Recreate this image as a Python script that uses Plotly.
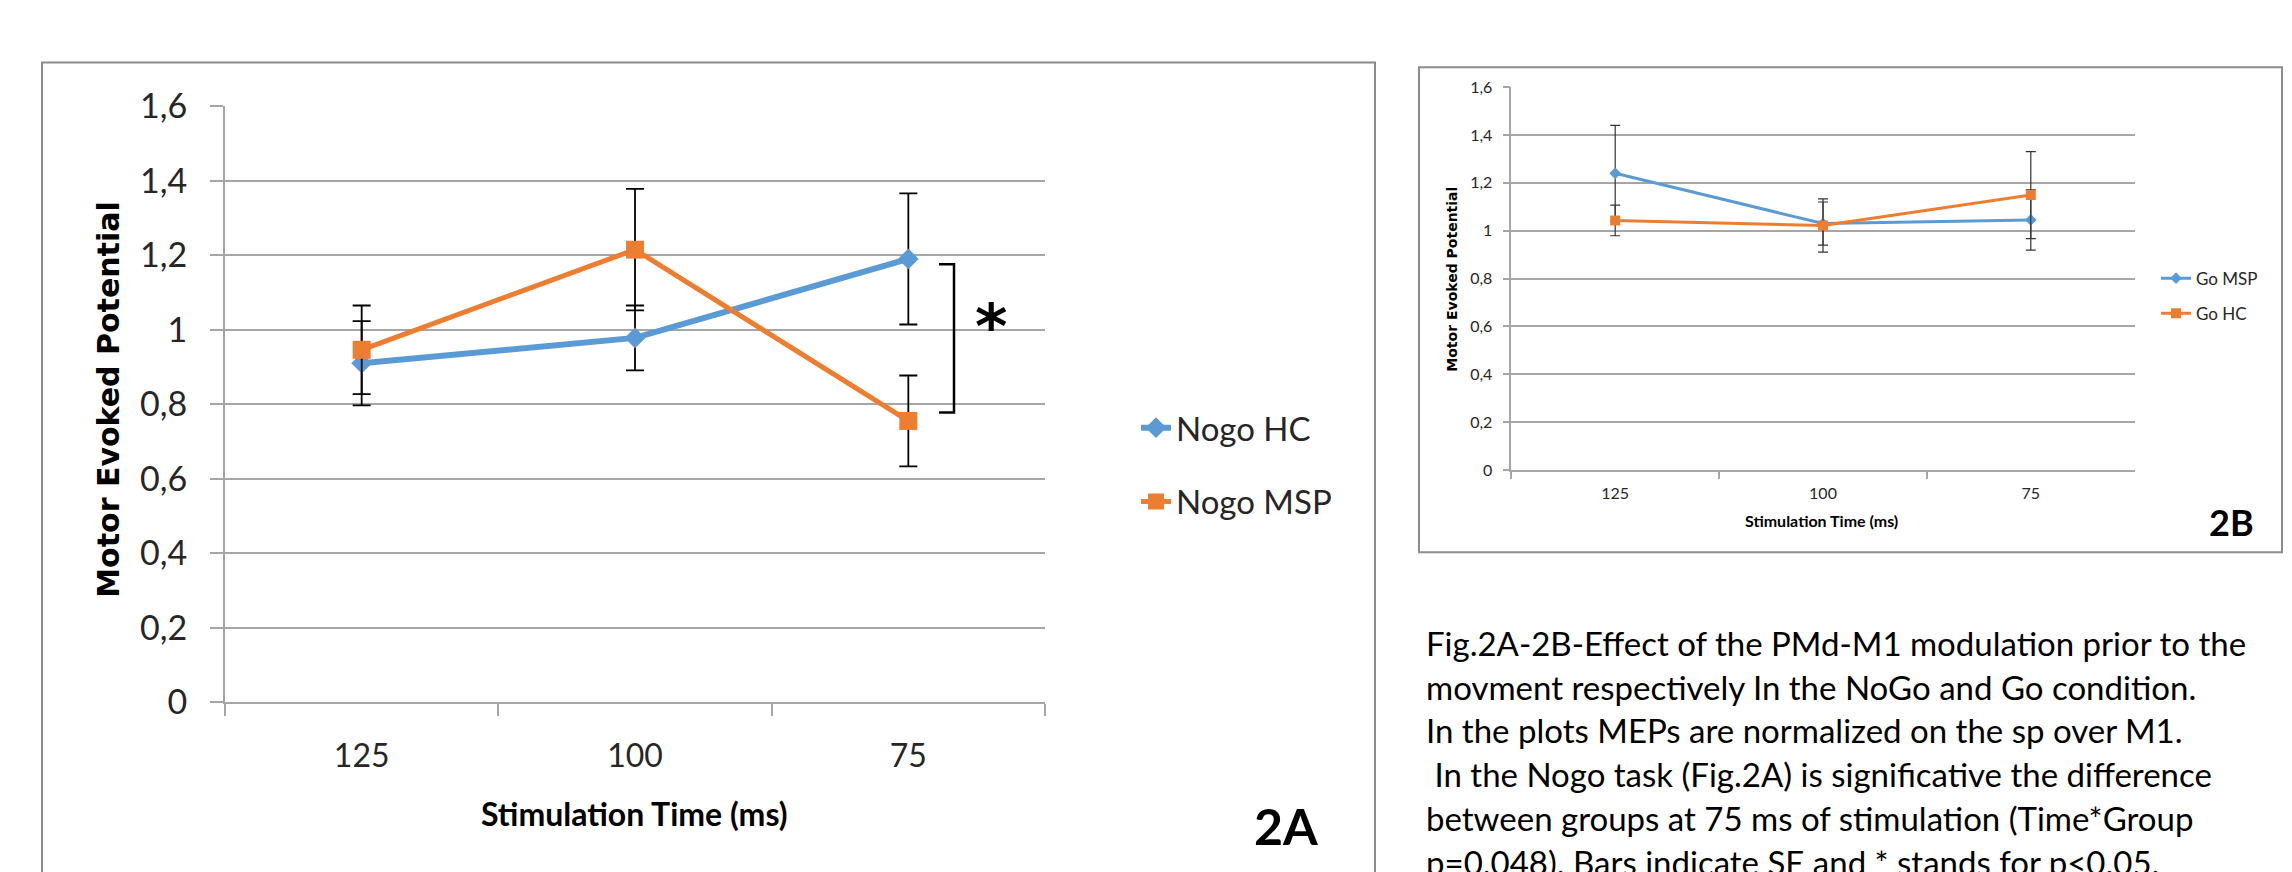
import plotly.graph_objects as go

W, H = 2292, 872

# ---------------- data ----------------
stim_times = ["125", "100", "75"]

nogo_hc = [0.91, 0.978, 1.19]
nogo_hc_se = [0.113, 0.087, 0.176]
nogo_msp = [0.946, 1.215, 0.755]
nogo_msp_se = [0.119, 0.163, 0.122]

go_msp = [1.24, 1.03, 1.045]
go_msp_se = [0.2, 0.09, 0.126]
go_hc = [1.043, 1.022, 1.149]
go_hc_se = [0.064, 0.111, 0.182]

sig_bracket = [0.778, 1.176]   # span of the significance bracket at 75 ms (Fig. 2A)

caption_lines = [
    "Fig.2A-2B-Effect of the PMd-M1 modulation prior to the",
    "movment respectively In the NoGo and Go condition.",
    "In the plots MEPs are normalized on the sp over M1.",
    "\u00a0In the Nogo task (Fig.2A) is significative the difference",
    "between groups at 75 ms of stimulation (Time*Group",
    "p=0.048). Bars indicate SE and * stands for p&lt;0.05.",
]

BLUE = "#5B9BD5"
ORANGE = "#ED7D31"
GRID = "#A6A6A6"
FRAME = "#8C8C8C"
FONT = "Lato, 'Liberation Sans', sans-serif"
BOLD_WIDE = "'DejaVu Sans', Verdana, sans-serif"


def px(x):
    return x / W


def py(y):
    return 1 - y / H


fig = go.Figure()

# ---------------- Fig. 2A ----------------
fig.add_trace(go.Scatter(
    x=stim_times, y=nogo_hc, name="Nogo HC", mode="lines+markers",
    line=dict(color=BLUE, width=6), marker=dict(symbol="diamond", size=16, color=BLUE),
    error_y=dict(type="data", array=nogo_hc_se, symmetric=True, color="black", thickness=1.8, width=9),
    xaxis="x", yaxis="y", legend="legend", legendgroup="a1"))
fig.add_trace(go.Scatter(
    x=stim_times, y=nogo_msp, name="Nogo MSP", mode="lines+markers",
    line=dict(color=ORANGE, width=5), marker=dict(symbol="square", size=18, color=ORANGE),
    error_y=dict(type="data", array=nogo_msp_se, symmetric=True, color="black", thickness=1.8, width=9),
    xaxis="x", yaxis="y", legend="legend", legendgroup="a2"))

# ---------------- Fig. 2B ----------------
fig.add_trace(go.Scatter(
    x=stim_times, y=go_msp, name="Go MSP", mode="lines+markers",
    line=dict(color=BLUE, width=3), marker=dict(symbol="diamond", size=9, color=BLUE),
    error_y=dict(type="data", array=go_msp_se, symmetric=True, color="#333333", thickness=1.2, width=5),
    xaxis="x2", yaxis="y2", legend="legend2", legendgroup="b1"))
fig.add_trace(go.Scatter(
    x=stim_times, y=go_hc, name="Go HC", mode="lines+markers",
    line=dict(color=ORANGE, width=3), marker=dict(symbol="square", size=10, color=ORANGE),
    error_y=dict(type="data", array=go_hc_se, symmetric=True, color="#333333", thickness=1.2, width=5),
    xaxis="x2", yaxis="y2", legend="legend2", legendgroup="b2"))

xcommon = dict(type="category", categoryorder="array", categoryarray=stim_times,
               range=[-0.5, 2.5], tickson="boundaries", ticks="outside",
               showline=True, linecolor=GRID, tickcolor=GRID, showgrid=False,
               zeroline=False, fixedrange=True)
ycommon = dict(range=[0, 1.6], dtick=0.2, tick0=0, ticks="outside", showline=True,
               linecolor=GRID, tickcolor=GRID, showgrid=True, gridcolor=GRID,
               zeroline=False, fixedrange=True)

fig.update_layout(
    width=W, height=H, autosize=False,
    margin=dict(l=0, r=0, t=0, b=0),
    paper_bgcolor="white", plot_bgcolor="white",
    separators=", ",
    font=dict(family=FONT, color="#262626"),
    xaxis=dict(**xcommon, domain=[px(217), px(1037)], anchor="y",
               ticklen=12, tickwidth=2, linewidth=2,
               tickfont=dict(size=32, family=FONT, color="#262626"), ticklabelstandoff=24),
    yaxis=dict(**ycommon, domain=[py(705.3), py(80)], anchor="x",
               ticklen=13, tickwidth=2, linewidth=2, gridwidth=2,
               tickfont=dict(size=34, family=FONT, color="#262626"), ticklabelstandoff=16),
    xaxis2=dict(**xcommon, domain=[px(1503.3), px(2126.7)], anchor="y2",
                ticklen=7, tickwidth=1.5, linewidth=1.5,
                tickfont=dict(size=16, family=FONT, color="#262626"), ticklabelstandoff=8),
    yaxis2=dict(**ycommon, domain=[py(461.7), py(60)], anchor="x2",
                ticklen=7, tickwidth=1.5, linewidth=1.5, gridwidth=1.5,
                tickfont=dict(size=16, family=FONT, color="#262626"), ticklabelstandoff=7),
    legend=dict(x=px(1128), y=py(388), xanchor="left", yanchor="top",
                font=dict(size=33, family=FONT, color="#262626"),
                bgcolor="rgba(0,0,0,0)", tracegroupgap=28, itemwidth=30),
    legend2=dict(x=px(2148), y=py(242), xanchor="left", yanchor="top",
                 font=dict(size=17, family=FONT, color="#262626"),
                 bgcolor="rgba(0,0,0,0)", tracegroupgap=10, itemwidth=30),
    showlegend=True,
)

shapes = [
    dict(type="rect", xref="paper", yref="paper", x0=px(34), x1=px(1367), y0=py(34), y1=py(900),
         line=dict(color=FRAME, width=2), fillcolor="rgba(0,0,0,0)", layer="below"),
    dict(type="rect", xref="paper", yref="paper", x0=px(1411), x1=px(2274), y0=py(39), y1=py(548),
         line=dict(color=FRAME, width=2), fillcolor="rgba(0,0,0,0)", layer="below"),
    dict(type="path", xref="paper", yref="y",
         path=f"M {px(931)},{sig_bracket[1]} L {px(946)},{sig_bracket[1]} "
              f"L {px(946)},{sig_bracket[0]} L {px(931)},{sig_bracket[0]}",
         line=dict(color="black", width=2.5)),
]
fig.update_layout(shapes=shapes)

ann = [
    # axis titles 2A
    dict(text="<b>Motor Evoked Potential</b>", x=px(101), y=py(388), textangle=-90,
         font=dict(size=30, family=BOLD_WIDE, color="black")),
    dict(text="<b>Stimulation Time (ms)</b>", x=px(626), y=py(822),
         font=dict(size=32, family=FONT, color="black")),
    # axis titles 2B
    dict(text="<b>Motor Evoked Potential</b>", x=px(1444), y=py(262), textangle=-90,
         font=dict(size=14, family=BOLD_WIDE, color="black")),
    dict(text="<b>Stimulation Time (ms)</b>", x=px(1813), y=py(515),
         font=dict(size=16, family=FONT, color="black")),
    # panel labels
    dict(text="<b>2A</b>", x=px(1278), y=py(835), font=dict(size=50, family=FONT, color="black")),
    dict(text="<b>2B</b>", x=px(2223), y=py(516), font=dict(size=36, family=FONT, color="black")),
    # significance star
    dict(text="<b>*</b>", x=px(983), y=(sig_bracket[0] + sig_bracket[1]) / 2, yref="y",
         font=dict(size=62, family=BOLD_WIDE, color="black"), yshift=12),
]
for a in ann:
    a.setdefault("xref", "paper")
    a.setdefault("yref", "paper")
    a.update(showarrow=False, xanchor="center", yanchor="middle")
fig.update_layout(annotations=ann)

caption_y = [643, 689, 735, 781, 827, 873]
for line, yc in zip(caption_lines, caption_y):
    fig.add_annotation(text=line, xref="paper", yref="paper", x=px(1416), y=py(yc),
                       xanchor="left", yanchor="middle", showarrow=False, align="left",
                       font=dict(size=33, family=FONT, color="black"))

fig.write_html("out.html")
